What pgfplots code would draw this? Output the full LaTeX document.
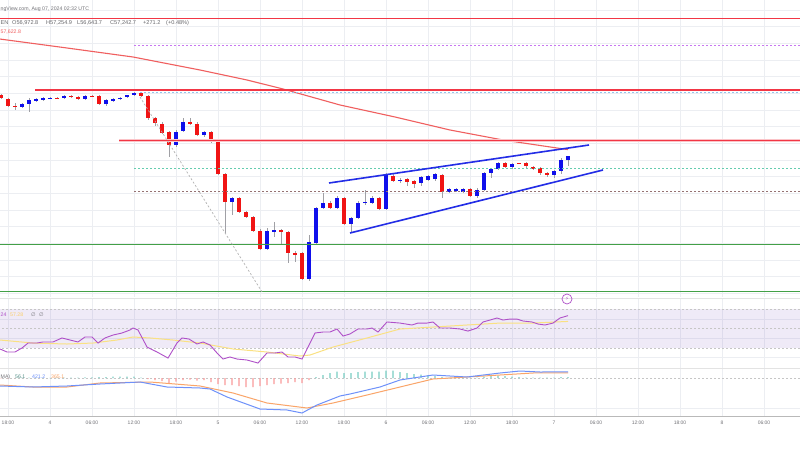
\documentclass[border=0pt]{standalone}
\usepackage{fontspec}
\setmainfont{Liberation Sans}
\newfontfamily\dejavu{DejaVu Sans}
\usepackage{pgfplots}
\usepackage{pgfplotstable}
\pgfplotsset{compat=1.18}

\definecolor{tvgrid}{RGB}{236,238,242}
\definecolor{tvtext}{RGB}{115,115,120}
\definecolor{upc}{RGB}{15,15,235}
\definecolor{dnc}{RGB}{240,20,20}
\definecolor{wick}{RGB}{160,160,165}
\definecolor{lvlred}{RGB}{242,54,69}
\definecolor{smared}{RGB}{240,95,95}
\definecolor{chan}{RGB}{35,45,230}
\definecolor{lvlgreen}{RGB}{67,160,71}
\definecolor{lvlteal}{RGB}{100,205,175}
\definecolor{lvlbrown}{RGB}{150,115,115}
\definecolor{lvlviolet}{RGB}{200,120,240}
\definecolor{lvlblue}{RGB}{150,195,235}
\definecolor{rsiline}{RGB}{175,80,200}
\definecolor{rsima}{RGB}{250,225,130}
\definecolor{rsiband}{RGB}{126,87,194}
\definecolor{macdc}{RGB}{110,145,250}
\definecolor{sigc}{RGB}{250,165,105}
\definecolor{histup}{RGB}{120,205,195}
\definecolor{histdn}{RGB}{250,155,155}

% hourly candles, t = hours after Aug 4 00:00
\pgfplotstableread{
t o h l c
-7 60900 60960 60660 60720
-6 60660 60720 60180 60240
-5 60240 60420 60000 60180
-4 60180 60420 60120 60360
-3 60360 60720 59880 60600
-2 60540 60720 60480 60660
-1 60600 60780 60540 60720
0 60690 60780 60660 60720
1 60720 60780 60660 60690
2 60720 60900 60660 60840
3 60840 60900 60720 60780
4 60780 60840 60600 60660
5 60660 60900 60600 60840
6 60840 60900 60780 60810
7 60840 60900 60300 60360
8 60360 60660 60240 60600
9 60540 60720 60480 60660
10 60660 60780 60600 60750
11 60780 60900 60720 60870
12 60900 61080 60840 61020
13 61020 61080 60780 60840
14 60840 60900 59400 59520
15 59520 59580 59040 59220
16 59160 59280 58560 58620
17 58680 58740 57180 57900
18 57900 58800 57780 58680
19 58740 59520 58680 59280
20 59280 59520 59100 59160
21 59160 59280 58440 58500
22 58500 58740 58380 58680
23 58680 58740 58020 58080
24 58080 58140 56100 56160
25 56160 56220 52620 54480
26 54480 54780 53700 54720
27 54720 54780 53820 53880
28 53880 53940 53520 53580
29 53580 53640 52680 52740
30 52740 52860 51600 51660
31 51660 52920 51600 52740
32 52680 53280 52380 52800
33 52800 52860 51900 52680
34 52680 52740 50820 51420
35 51420 51540 50880 51360
36 51420 51480 49800 49860
37 49860 52500 49740 52080
38 52020 54180 51960 54120
39 54120 55020 54060 54420
40 54420 54540 54060 54120
41 54120 54840 54060 54720
42 54720 54780 53100 53160
43 53160 53580 52680 53520
44 53520 54540 53460 54420
45 54420 55200 54300 54480
46 54420 54840 54360 54720
47 54720 54780 54000 54060
48 54060 56220 54000 56160
49 56040 56160 55680 55740
50 55770 55920 55620 55800
51 55860 55920 55440 55680
52 55740 55800 55320 55560
53 55620 56040 55440 55980
54 55800 56100 55740 56040
55 55860 56220 55740 56160
56 56100 56160 54720 55080
57 55080 55320 55020 55260
58 55140 55320 55080 55260
59 55080 55320 55020 55260
60 55260 55320 54780 54840
61 54840 55320 54720 55200
62 55200 56280 55140 56220
63 56220 56520 55920 56460
64 56460 56880 56400 56820
65 56820 56880 56520 56580
66 56580 56820 56460 56760
67 56820 56850 56760 56790
68 56820 56880 56520 56640
69 56580 56640 56400 56520
70 56520 56580 56100 56220
71 56220 56280 55980 56100
72 56100 56400 55920 56340
73 56340 57120 56160 57000
74 56972.8 57254.9 56643.7 57242.7
}\candles

\pgfplotstableread{
t r
-7.14 29.0
-6.14 25.9
-5 25.9
-4 30.0
-3.14 35.1
-1.86 35.1
-1 36.2
0.43 36.2
1.71 40.3
2.86 38.2
4 36.2
5 41.3
6 41.3
6.86 35.1
7.86 40.3
9 43.3
10.29 45.4
11.43 48.5
11.86 50.5
12.57 48.5
13.86 31.0
15.29 25.9
16.86 19.7
18.14 35.1
18.86 40.3
19.86 39.2
21 34.1
21.86 36.2
22.86 33.1
23.86 24.9
24.71 18.7
25.71 20.8
26.71 18.7
28.14 17.7
29.71 14.6
31 24.9
32.14 24.9
33.14 25.9
34 20.8
35 20.8
36 18.7
37.14 35.1
37.86 45.4
39 46.4
40 46.4
41 49.5
41.86 42.3
42.86 44.4
44 49.5
45.29 49.5
46 50.5
46.86 46.4
48.14 56.7
50 55.6
51.71 53.6
52.57 55.6
53.86 55.6
54.71 56.7
55.71 50.5
57.14 50.5
58.57 49.5
59.71 47.4
61 50.5
61.86 56.7
62.86 58.7
63.86 60.8
64.71 58.7
65.71 59.7
66.71 59.7
67.57 57.7
68.86 56.7
69.71 54.6
70.71 53.6
71.86 55.6
72.86 60.8
74 63.2
}\rsi

\pgfplotstableread{
t m
-7.14 38.2
-2.43 35.1
2.43 34.1
6.14 35.1
9.57 38.2
11.86 41.3
14.29 40.3
17.57 38.2
21.43 35.1
26.14 29.0
31 25.9
35.71 21.8
37.14 22.8
40.43 31.0
45.29 40.3
50 49.5
54.71 51.5
59.57 53.6
64.29 55.6
69 55.6
74 57.28
}\rsima

\pgfplotstableread{
t v
-7.14 -560
-2.43 -630
2.43 -560
7.14 -420
12.86 -280
16.71 -630
21.43 -700
22.86 -770
25.29 -1330
30 -2170
33.86 -2240
36 -2450
38.14 -1890
41.43 -1260
42.86 -1120
47.14 -630
50 -140
54.71 210
59.57 70
64.29 350
67.14 490
70 420
74 421.2
}\macd

\pgfplotstableread{
t v
-7.14 -490
-2.43 -630
2.43 -630
7.14 -350
14.29 -280
21.43 -560
26.14 -1050
31 -1750
36.71 -2100
40.43 -1750
45.29 -1190
50 -630
54.71 -70
59.57 70
64.29 210
69 350
74 365.1
}\signal

\pgfplotstableread{
t v
-7 -30
-6 -20
-5 -10
-4 10
-3 20
-2 15
-1 10
0 10
1 20
2 35
3 35
4 35
5 50
6 50
7 70
8 70
9 105
10 105
11 105
12 105
13 35
14 -70
15 -140
16 -210
17 -350
18 -245
19 -140
20 -105
21 -175
22 -140
23 -280
24 -420
25 -490
26 -490
27 -560
28 -630
29 -630
30 -560
31 -490
32 -420
33 -385
34 -350
35 -280
36 -350
37 -140
38 70
39 210
40 350
41 455
42 350
43 350
44 420
45 455
46 455
47 455
48 525
49 525
50 420
51 350
52 280
53 245
54 210
55 140
56 70
57 35
58 35
59 35
60 35
61 35
62 105
63 140
64 175
65 140
66 105
67 70
68 35
69 20
70 20
71 20
72 35
73 70
74 56.1
}\hist

\pgfplotsset{
  tvpane/.style={
    scale only axis, width=800pt, anchor=south west,
    xmin=-7.142857, xmax=107.142857,
    xtick={-6,0,...,108}, xticklabels={}, yticklabels={},
    xmajorgrids, ymajorgrids,
    major grid style={tvgrid, line width=0.7pt},
    axis line style={draw=none}, tick style={draw=none},
  },
  % error bars only, no visible marks
  barsonly/.style={only marks, mark=*, mark size=0pt,
    mark options={draw opacity=0, fill opacity=0}},
}

\begin{document}
\begin{tikzpicture}
\useasboundingbox (0,0) rectangle (800pt,450pt);
\fill[white] (0,0) rectangle (800pt,450pt);

% price pane
\begin{axis}[tvpane, at={(0pt,153pt)}, height=297pt,
  ymin=48780, ymax=66600, ytick={49000,50000,...,66000}]
  % wicks
  \addplot[barsonly,
    error bars/.cd, y dir=both, y explicit, error mark=none,
    error bar style={line width=0.7pt, wick}]
    table[x=t, y expr={(\thisrow{h}+\thisrow{l})/2},
      y error expr={(\thisrow{h}-\thisrow{l})/2}] {\candles};
  % rising bodies
  \addplot[barsonly,
    restrict expr to domain={\thisrow{c}-\thisrow{o}}{0:100000},
    error bars/.cd, y dir=both, y explicit, error mark=none,
    error bar style={line width=4.4pt, upc}]
    table[x=t, y expr={(\thisrow{o}+\thisrow{c})/2},
      y error expr={max(abs(\thisrow{c}-\thisrow{o})/2,30)}] {\candles};
  % falling bodies
  \addplot[barsonly,
    restrict expr to domain={\thisrow{o}-\thisrow{c}}{0.001:100000},
    error bars/.cd, y dir=both, y explicit, error mark=none,
    error bar style={line width=4.4pt, dnc}]
    table[x=t, y expr={(\thisrow{o}+\thisrow{c})/2},
      y error expr={max(abs(\thisrow{c}-\thisrow{o})/2,30)}] {\candles};

  % levels and drawings
  \addplot[lvlred, line width=1.1pt] coordinates {(-8,65490) (108,65490)};
  \addplot[lvlviolet, line width=0.8pt, dash pattern=on 2pt off 2pt] coordinates {(12,63900) (108,63900)};
  \addplot[smared, line width=1.1pt] coordinates {
    (-7.2,64260) (2.43,63720) (11.86,63180) (21.43,62400) (28.14,61800)
    (33.29,61260) (41.43,60300) (49.29,59580) (57.14,58800) (64.71,58200)
    (74,57622.8)};
  \addplot[lvlred, line width=1.1pt] coordinates {(-2.14,61200) (108,61200)};
  \addplot[lvlblue, line width=0.7pt, dash pattern=on 2pt off 2pt] coordinates {(12.86,61050) (108,61050)};
  \addplot[lvlred!30, line width=3pt] coordinates {(9.86,58140) (108,58140)};
  \addplot[lvlred, line width=1pt] coordinates {(9.86,58140) (108,58140)};
  \addplot[lvlteal, line width=0.7pt, dash pattern=on 2pt off 2pt] coordinates {(12,56520) (108,56520)};
  \addplot[lvlbrown, line width=0.7pt, dash pattern=on 2pt off 2pt] coordinates {(12,55110) (108,55110)};
  \addplot[lvlgreen, line width=0.9pt] coordinates {(-8,51960) (108,51960)};
  \addplot[lvlgreen, line width=0.9pt] coordinates {(-8,49140) (108,49140)};
  \addplot[gray!60, line width=0.7pt, dash pattern=on 2pt off 2pt] coordinates {(12.86,60780) (30.29,49080)};
  \addplot[chan, line width=1.6pt] coordinates {(39.86,55620) (77,57900)};
  \addplot[chan, line width=1.6pt] coordinates {(42.86,52620) (79,56400)};
\end{axis}

% RSI pane
\begin{axis}[tvpane, at={(0pt,82pt)}, height=70pt,
  ymin=9.5, ymax=81.3, ytick={20.8,40.3,59.7}]
  \addplot[draw=none, fill=rsiband, fill opacity=0.12] coordinates {(-8,30) (108,30) (108,70) (-8,70)} -- cycle;
  \addplot[gray!45, line width=0.6pt, dash pattern=on 2pt off 2pt] coordinates {(-8,70) (108,70)};
  \addplot[gray!45, line width=0.6pt, dash pattern=on 2pt off 2pt] coordinates {(-8,50) (108,50)};
  \addplot[gray!45, line width=0.6pt, dash pattern=on 2pt off 2pt] coordinates {(-8,30) (108,30)};
  \addplot[rsima, line width=1pt] table[x=t, y=m] {\rsima};
  \addplot[rsiline, line width=0.9pt] table[x=t, y=r] {\rsi};
\end{axis}

% MACD pane
\begin{axis}[tvpane, at={(0pt,34pt)}, height=48pt,
  ymin=-2660, ymax=700, ytick={-2100},
  xticklabels={18:00,4,06:00,12:00,18:00,5,06:00,12:00,18:00,6,06:00,12:00,18:00,7,06:00,12:00,18:00,8,06:00,12:00},
  xticklabel style={font=\fontsize{5}{6}\selectfont, text=tvtext, yshift=-1.5pt}]
  \addplot[gray!45, line width=0.6pt, dash pattern=on 2pt off 2pt] coordinates {(-8,0) (108,0)};
  \addplot[ybar, bar width=1.1pt, bar shift=0pt, draw=none, fill=histup,
    restrict expr to domain={\thisrow{v}}{0:100000}] table[x=t, y=v] {\hist};
  \addplot[ybar, bar width=1.1pt, bar shift=0pt, draw=none, fill=histdn,
    restrict expr to domain={\thisrow{v}}{-100000:-0.001}] table[x=t, y=v] {\hist};
  \addplot[sigc, line width=1pt] table[x=t, y=v] {\signal};
  \addplot[macdc, line width=1pt] table[x=t, y=v] {\macd};
\end{axis}

% pane borders
\draw[gray!22, line width=0.8pt] (0,152pt) -- (800pt,152pt);
\draw[gray!22, line width=0.8pt] (0,82pt) -- (800pt,82pt);
\draw[gray!55, line width=0.8pt] (0,34pt) -- (800pt,34pt);

% legends (only the parts visible in the cropped screenshot)
\begin{scope}[every node/.style={inner sep=0pt, font=\fontsize{5.2}{6}\selectfont}]
  \node[anchor=base west, text=tvtext] at (0.5pt,439pt) {ngView.com, Aug 07, 2024 02:32 UTC};
  \begin{scope}[every node/.style={inner sep=0pt, font=\fontsize{5.6}{6}\selectfont, text=tvtext!90!black}]
    \node[anchor=base west] at (0.5pt,425pt) {EN};
    \node[anchor=base west] at (12pt,425pt) {O56,972.8};
    \node[anchor=base west] at (46pt,425pt) {H57,254.9};
    \node[anchor=base west] at (77pt,425pt) {L56,643.7};
    \node[anchor=base west] at (110pt,425pt) {C57,242.7};
    \node[anchor=base west] at (143pt,425pt) {+271.2};
    \node[anchor=base west] at (166pt,425pt) {(+0.48\%)};
  \end{scope}
  \node[anchor=base west, text=smared] at (0.5pt,416pt) {57,622.8};
  \node[anchor=base west, text=rsiline] at (0.5pt,134pt) {24};
  \node[anchor=base west, text=rsima!80!orange] at (10pt,134pt) {57.28};
  \node[anchor=base west, text=tvtext] at (31pt,134pt) {\dejavu ∅\ \ ∅};
  \node[anchor=base west, text=tvtext] at (0.5pt,72pt) {MA)};
  \node[anchor=base west, text=histup!70!black] at (15pt,72pt) {56.1};
  \node[anchor=base west, text=macdc] at (32pt,72pt) {421.2};
  \node[anchor=base west, text=sigc] at (51pt,72pt) {365.1};
\end{scope}
\node[circle, draw=rsiline, line width=0.7pt, minimum size=10pt, inner sep=0pt,
  text=rsiline, font=\dejavu\fontsize{5}{5}\selectfont] at (567pt,151pt) {⚡};
\end{tikzpicture}
\end{document}
